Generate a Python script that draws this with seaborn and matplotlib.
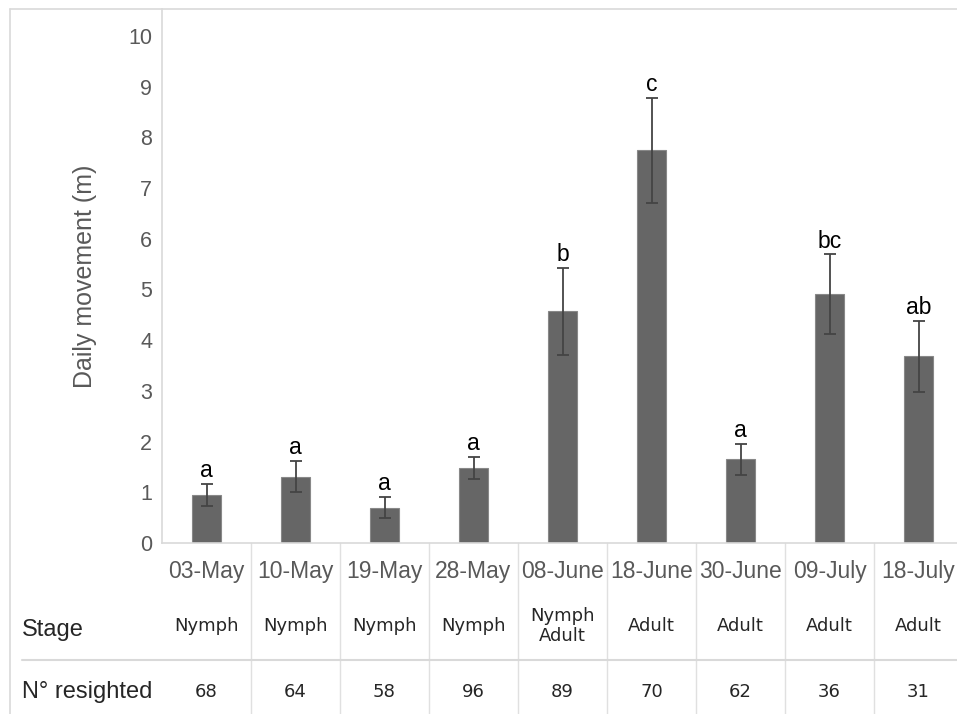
import numpy as np
import pandas as pd
import matplotlib.pyplot as plt
import seaborn as sns
from matplotlib.lines import Line2D

# Data
dates = ["03-May", "10-May", "19-May", "28-May", "08-June", "18-June", "30-June", "09-July", "18-July"]
movement = [0.95, 1.31, 0.70, 1.48, 4.57, 7.74, 1.65, 4.91, 3.68]
se = [0.22, 0.31, 0.21, 0.22, 0.86, 1.04, 0.31, 0.78, 0.70]
letters = ["a", "a", "a", "a", "b", "c", "a", "bc", "ab"]
stages = ["Nymph", "Nymph", "Nymph", "Nymph", "Nymph\nAdult", "Adult", "Adult", "Adult", "Adult"]
resighted = [68, 64, 58, 96, 89, 70, 62, 36, 31]

df = pd.DataFrame({"date": dates, "movement": movement})

sns.set_style("white")
plt.rcParams['font.family'] = ['Liberation Sans', 'DejaVu Sans']

W, H = 957, 714
fig = plt.figure(figsize=(W / 100, H / 100), dpi=100)
ax = fig.add_axes([162 / W, 1 - 543 / H, 801 / W, 534 / H])

sns.barplot(data=df, x="date", y="movement", color="#666666", width=0.32,
            edgecolor="#888888", linewidth=0.8, saturation=1, errorbar=None, ax=ax)
ax.errorbar(np.arange(len(dates)), movement, yerr=se, fmt="none", ecolor="#444444",
            elinewidth=1.3, capsize=4, capthick=1.3)

# significance letters
for i, (m, s, lab) in enumerate(zip(movement, se, letters)):
    ax.annotate(lab, (i, m + s), xytext=(0, 5), textcoords="offset points",
                ha="center", va="baseline", fontsize=16.5, color="black")

ax.set_xlim(-0.5, 8.5)
ax.set_ylim(0, 10.53)
ax.set_yticks(range(0, 11))
ax.tick_params(axis="y", length=0, pad=7, labelsize=15.5, labelcolor="#595959")
ax.tick_params(axis="x", length=0, pad=12, labelsize=16.5, labelcolor="#595959")
ax.set_xlabel("")
ax.set_ylabel("Daily movement (m)", fontsize=18, color="#595959")
ax.yaxis.set_label_coords(-0.081, 0.5)

for side in ["top", "right"]:
    ax.spines[side].set_visible(False)
for side in ["left", "bottom"]:
    ax.spines[side].set_color("#d9d9d9")
    ax.spines[side].set_linewidth(1.2)

# table below the axis
xt = ax.get_xaxis_transform()
for b in np.arange(0.5, len(dates) - 0.5, 1):
    ax.plot([b, b], [0, -0.33], transform=xt, clip_on=False, color="#e0e0e0", lw=1)
for i, (st, n) in enumerate(zip(stages, resighted)):
    ax.text(i, (543 - 626) / 534, st, transform=xt, ha="center", va="center",
            fontsize=13, family="DejaVu Sans", linespacing=1.2)
    ax.text(i, (543 - 692) / 534, str(n), transform=xt, ha="center", va="center",
            fontsize=13, family="DejaVu Sans")

fig.text(22 / W, 1 - 630 / H, "Stage", ha="left", va="center", fontsize=17)
fig.text(22 / W, 1 - 692 / H, "N° resighted", ha="left", va="center", fontsize=17)

# row separator and outer frame
fig.add_artist(Line2D([22 / W, 1], [1 - 660 / H] * 2, color="#d9d9d9", lw=1.5))
fig.add_artist(Line2D([10 / W, 10 / W], [0, 1 - 9 / H], color="#d9d9d9", lw=1.2))
fig.add_artist(Line2D([10 / W, 1], [1 - 9 / H] * 2, color="#d9d9d9", lw=1.2))

fig.savefig("out.png", dpi=100)
